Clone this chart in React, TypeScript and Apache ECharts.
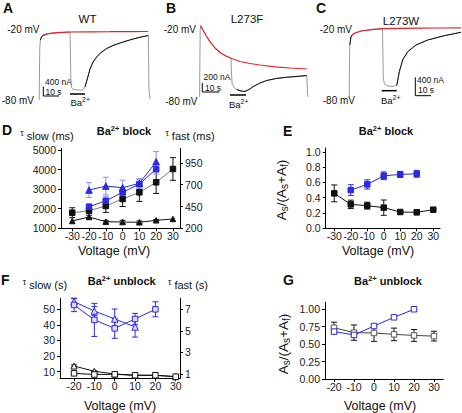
import React, { useEffect, useRef } from 'react';
import * as echarts from 'echarts';

// ---------- Trace data (time in s, current in nA) ----------
const traceARaw = [[0.13,0],[0.33,800],[0.53,1387],[0.93,1600],[1.8,1693],[3.33,1733],[5.33,1760],[8.67,1781],[12.67,1797],[16.67,1805],[20.67,1813],[20.93,1333],[21.2,587],[21.67,347],[22.67,280],[26,267],[29.33,267],[30.67,347],[32,533],[34,827],[36,1013],[38.47,1147],[41.33,1267],[45.13,1373],[49.33,1453],[54,1520],[58.67,1579],[62.87,1627],[68,1680],[72.87,1720],[73.07,1067],[73.33,267],[74,27]];
const traceAAct = [[0.93,1600],[1.8,1693],[3.33,1733],[5.33,1760]];
const traceARec = [[30.67,347],[32,533],[34,827],[36,1013],[38.47,1147],[41.33,1267],[45.13,1373],[49.33,1453],[54,1520],[58.67,1579],[62.87,1627],[68,1680],[72.87,1720]];
const traceARed = [[2.67,1725],[5.33,1760],[8.67,1781],[12.67,1797],[16.67,1805],[20.67,1813],[34,1819],[47.33,1821],[60.67,1824],[72.87,1827]];

const traceBRaw = [[0.35,72],[0.53,960],[0.71,1680],[1.0,1783],[2.35,1680],[4.12,1548],[6.47,1399],[9.41,1248],[12.35,1140],[15.88,1056],[18.82,1001],[19.06,720],[19.41,408],[20.59,300],[22.18,252],[24.71,216],[27.06,204],[29.41,252],[31.94,324],[35.88,408],[39.82,468],[45.29,516],[51.59,545],[57.65,566],[63.35,586],[63.65,360],[63.88,120],[64.41,72]];
const traceBRed = [[1.0,1783],[2.35,1680],[4.12,1548],[6.47,1399],[9.41,1248],[12.35,1140],[15.88,1056],[19.24,996],[24.12,924],[30,876],[35.88,840],[44.71,797],[53.53,768],[63.35,744]];
const traceBRec = [[22.18,252],[24.71,216],[27.06,204],[29.41,252],[31.94,324],[35.88,408],[39.82,468],[45.29,516],[51.59,545],[57.65,566],[63.35,586]];

const traceCRaw = [[0.13,63],[0.25,630],[0.51,1155],[1.27,1329],[3.38,1401],[7.64,1449],[14.01,1476],[21.34,1497],[21.59,1050],[21.85,462],[22.61,336],[24.84,294],[28.03,284],[30.38,305],[31.21,441],[32.04,594],[34.2,840],[37.39,1014],[42.68,1155],[50.13,1260],[60.7,1350],[71.34,1422]];
const traceCAct = [[0.51,1155],[1.27,1329],[1.91,1365]];
const traceCRed = [[1.91,1365],[3.38,1401],[7.64,1449],[14.01,1476],[21.34,1497],[32.48,1506],[45.22,1510],[57.96,1512],[71.34,1514]];
const traceCRec = [[30.38,305],[31.21,441],[32.04,594],[34.2,840],[37.39,1014],[42.68,1155],[50.13,1260],[60.7,1350],[71.34,1422]];

// ---------- Panel D: Ba2+ block time constants ----------
const dVolts = [-30, -20, -10, 0, 10, 20, 30];
const dVoltsBlue = [-20, -10, 0, 10, 20];
const dBlueSq = [2103, 2410, 2839, 3262, 4029];
const dBlueSqErr = [136, 230, 255, 230, 255];
const dBlueTri = [2956, 3160, 3075, 3298, 4403];
const dBlueTriErr = [375, 450, 383, 255, 528];
const dBlackSq = [379, 402, 456, 536, 613, 728, 881];
const dBlackSqErr = [57, 30, 73, 86, 105, 128, 130];
const dBlackTri = [284, 330, 276, 272, 269, 292, 307];
const dBlackTriErr = [0, 20, 15, 20, 15, 8, 0];
const dLeftTicks = [1000, 2000, 3000, 4000, 5000];
const dRightTicks = [200, 450, 700, 950];

// ---------- Panel E: block amplitude ratio ----------
const eVolts = [-30, -20, -10, 0, 10, 20, 30];
const eVoltsBlue = [-20, -10, 0, 10, 20];
const eBlack = [0.457, 0.313, 0.296, 0.27, 0.213, 0.209, 0.243];
const eBlackErr = [0.11, 0.055, 0.045, 0.1, 0.01, 0.03, 0.01];
const eBlue = [0.5, 0.574, 0.687, 0.704, 0.713];
const eBlueErr = [0.07, 0.06, 0.05, 0.04, 0.045];
const eTicks = [0, 0.2, 0.4, 0.6, 0.8, 1.0];

// ---------- Panel F: unblock time constants ----------
const fVolts = [-20, -10, 0, 10, 20, 30];
const fVoltsBlueTri = [-20, -10, 0, 10];
const fVoltsBlueSq = [-20, -10, 0, 10, 20];
const fBlueTri = [54.9, 48.9, 43.8, 38.7];
const fBlueTriErr = [2.1, 3, 6.4, 6.5];
const fBlueSq = [52.8, 43.2, 37.8, 43.8, 50];
const fBlueSqErr = [4.3, 10.6, 6.4, 3.6, 4.8];
const fBlackTri = [1.74, 1.25, 1.0, 0.88, 0.88, 0.75];
const fBlackTriErr = [0.1, 0.05, 0.03, 0, 0, 0];
const fBlackSq = [1.06, 0.95, 0.97, 0.88, 0.88, 0.75];
const fLeftTicks = [10, 20, 30, 40, 50];
const fRightTicks = [1, 3, 5, 7];

// ---------- Panel G: unblock amplitude ratio ----------
const gVolts = [-20, -10, 0, 10, 20, 30];
const gVoltsBlue = [-20, -10, 0, 10, 20];
const gBlack = [0.735, 0.665, 0.66, 0.64, 0.625, 0.615];
const gBlackErr = [0.08, 0.11, 0.12, 0.09, 0.085, 0.07];
const gBlue = [0.68, 0.632, 0.76, 0.885, 1.0];
const gBlueErr = [0.03, 0.02, 0, 0, 0];
const gTicks = [0, 0.25, 0.5, 0.75, 1.0];

const FONT = "'Liberation Sans', Arial, Helvetica, sans-serif";
const BLUE = '#2b2be0';
const BLUE_ERR = '#8f8ff0';
const RED = '#e82028';
const GRAY = '#9a9a9a';

const zip = (xs: number[], ys: number[]) => xs.map((x, i) => [x, ys[i]]);

function errSeries(xs: number[], ys: number[], es: number[], xi: number, yi: number, color: string, cap = 3) {
  return {
    type: 'custom', xAxisIndex: xi, yAxisIndex: yi, z: 1, silent: true,
    data: xs.map((x, i) => [x, ys[i], es[i]]),
    encode: { x: 0, y: 1 },
    renderItem: (_p: any, api: any) => {
      const x = api.value(0), y = api.value(1), e = api.value(2);
      if (!e) return { type: 'group', children: [] };
      const t = api.coord([x, y + e]);
      const b = api.coord([x, y - e]);
      const st = { stroke: color, lineWidth: 1 };
      return {
        type: 'group', children: [
          { type: 'line', shape: { x1: t[0], y1: t[1], x2: b[0], y2: b[1] }, style: st },
          { type: 'line', shape: { x1: t[0] - cap, y1: t[1], x2: t[0] + cap, y2: t[1] }, style: st },
          { type: 'line', shape: { x1: b[0] - cap, y1: b[1], x2: b[0] + cap, y2: b[1] }, style: st },
        ],
      };
    },
  };
}

function ptSeries(xs: number[], ys: number[], xi: number, yi: number, lineColor: string, symbol: string, fill: string, stroke: string, size = 5) {
  return {
    type: 'line', xAxisIndex: xi, yAxisIndex: yi, z: 3, silent: true,
    data: zip(xs, ys), symbol, symbolSize: size, showSymbol: true,
    lineStyle: { color: lineColor, width: 1 },
    itemStyle: { color: fill, borderColor: stroke, borderWidth: 1 },
  };
}

function traceSeries(data: number[][], gi: number, color: string, width = 1, z = 2) {
  return {
    type: 'line', xAxisIndex: gi, yAxisIndex: gi, z, silent: true, clip: false,
    data, symbol: 'none', showSymbol: false,
    lineStyle: { color, width },
  };
}

const axisBase = {
  axisLine: { show: true, onZero: false, lineStyle: { color: '#000', width: 1 } },
  axisTick: { show: true, length: 3, lineStyle: { color: '#000' } },
  splitLine: { show: false },
};
const lblBase = { color: '#1a1a1a', fontSize: 10.5, fontFamily: FONT };
const plain = (v: number) => String(v);

function xAx(gi: number, min: number, max: number, ticks: number[]) {
  return {
    type: 'value', gridIndex: gi, min, max, ...axisBase,
    axisTick: { ...axisBase.axisTick, customValues: ticks },
    axisLabel: { ...lblBase, customValues: ticks, margin: 2, formatter: plain },
  };
}
function yAx(gi: number, min: number, max: number, ticks: number[], pos: string, fmt: (v: number) => string = plain) {
  return {
    type: 'value', gridIndex: gi, min, max, position: pos, ...axisBase,
    axisTick: { ...axisBase.axisTick, customValues: ticks },
    axisLabel: { ...lblBase, customValues: ticks, margin: 5, formatter: fmt },
  };
}
const hidden = (gi: number, min: number, max: number) => ({ type: 'value', gridIndex: gi, min, max, show: false });

function txt(x: number, y: number, text: string, size = 11, align = 'left', bold = false) {
  return {
    type: 'text', x, y, silent: true,
    style: { text, fontSize: size, fontFamily: FONT, fill: '#111', align, verticalAlign: 'middle', fontWeight: bold ? 'bold' : 'normal' },
  };
}
function rich(x: number, y: number, text: string, richDef: any, align = 'center', rotation = 0) {
  return {
    type: 'text', x, y, rotation, silent: true,
    style: { text, fontFamily: FONT, fill: '#111', align, verticalAlign: 'middle', rich: richDef },
  };
}
const ln = (x1: number, y1: number, x2: number, y2: number, w = 1) => ({
  type: 'line', silent: true, shape: { x1, y1, x2, y2 }, style: { stroke: '#000', lineWidth: w },
});

const titleRich = {
  b: { fontSize: 11, fontWeight: 'bold', fontFamily: FONT, fill: '#111' },
  s: { fontSize: 7.5, fontWeight: 'bold', fontFamily: FONT, fill: '#111', padding: [0, 0, 6, 0] },
};
const baRich = {
  n: { fontSize: 9.5, fontFamily: FONT, fill: '#111' },
  s: { fontSize: 7, fontFamily: FONT, fill: '#111', padding: [0, 0, 6, 0] },
};
const tauRich = {
  t: { fontSize: 8.5, fontFamily: FONT, fill: '#111', padding: [0, 0, 6, 0] },
  n: { fontSize: 11, fontFamily: FONT, fill: '#111' },
};
const ratioRich = {
  n: { fontSize: 13.5, fontFamily: FONT, fill: '#111' },
  b: { fontSize: 10, fontFamily: FONT, fill: '#111', padding: [6, 0, 0, 0] },
};
const RATIO = '{n|A}{b|s}{n|/(A}{b|s}{n|+A}{b|f}{n|)}';
const VOLT_FS = 12.5;

const option: any = {
  animation: false,
  backgroundColor: '#fff',
  grid: [
    { left: 39, top: 25, width: 111, height: 75 },
    { left: 199, top: 25, width: 110, height: 75 },
    { left: 349, top: 20, width: 113, height: 80 },
    { left: 61, top: 148.5, width: 119, height: 79.8 },
    { left: 325.7, top: 148, width: 114.3, height: 80.3 },
    { left: 60, top: 298.3, width: 120, height: 80 },
    { left: 325, top: 302.3, width: 118.3, height: 76.7 },
  ],
  xAxis: [
    hidden(0, 0, 74),
    hidden(1, 0, 64.7),
    hidden(2, 0, 72),
    xAx(3, -36.7, 34.2, dVolts),
    xAx(4, -35.2, 34.1, eVolts),
    xAx(5, -26.9, 32.1, fVolts),
    xAx(6, -24.5, 34.65, gVolts),
  ],
  yAxis: [
    hidden(0, 0, 2000),
    hidden(1, 0, 1800),
    hidden(2, 0, 1680),
    yAx(3, 1000, 5080, dLeftTicks, 'left'),
    yAx(3, 200, 1116, dRightTicks, 'right'),
    yAx(4, 0, 1.05, eTicks, 'left', (v: number) => v.toFixed(1)),
    yAx(5, 5.77, 57.05, fLeftTicks, 'left'),
    yAx(5, 0.6, 8.02, fRightTicks, 'right'),
    yAx(6, 0, 1.1, gTicks, 'left', (v: number) => v.toFixed(2)),
  ],
  series: [
    // traces
    traceSeries(traceARaw, 0, GRAY, 1, 1),
    traceSeries(traceAAct, 0, '#111', 1, 2),
    traceSeries(traceARec, 0, '#111', 1, 2),
    traceSeries(traceARed, 0, RED, 1.2, 3),
    traceSeries(traceBRaw, 1, GRAY, 1, 1),
    traceSeries(traceBRec, 1, '#111', 1, 2),
    traceSeries(traceBRed, 1, RED, 1.2, 3),
    traceSeries(traceCRaw, 2, GRAY, 1, 1),
    traceSeries(traceCAct, 2, '#111', 1, 2),
    traceSeries(traceCRec, 2, '#111', 1, 2),
    traceSeries(traceCRed, 2, RED, 1.2, 3),
    // D
    errSeries(dVolts, dBlackSq, dBlackSqErr, 3, 4, '#111'),
    errSeries(dVolts, dBlackTri, dBlackTriErr, 3, 4, '#111'),
    errSeries(dVoltsBlue, dBlueSq, dBlueSqErr, 3, 3, BLUE_ERR),
    errSeries(dVoltsBlue, dBlueTri, dBlueTriErr, 3, 3, BLUE_ERR),
    ptSeries(dVolts, dBlackSq, 3, 4, '#7a7a7a', 'rect', '#111', '#111', 5.5),
    ptSeries(dVolts, dBlackTri, 3, 4, '#111', 'triangle', '#111', '#111', 5.5),
    ptSeries(dVoltsBlue, dBlueSq, 3, 3, BLUE, 'rect', BLUE, BLUE, 5.5),
    ptSeries(dVoltsBlue, dBlueTri, 3, 3, BLUE, 'triangle', BLUE, BLUE, 6.5),
    // E
    errSeries(eVolts, eBlack, eBlackErr, 4, 5, '#111'),
    errSeries(eVoltsBlue, eBlue, eBlueErr, 4, 5, BLUE),
    ptSeries(eVolts, eBlack, 4, 5, '#111', 'rect', '#111', '#111', 5.5),
    ptSeries(eVoltsBlue, eBlue, 4, 5, BLUE, 'rect', BLUE, BLUE, 5.5),
    // F
    errSeries(fVoltsBlueTri, fBlueTri, fBlueTriErr, 5, 6, BLUE),
    errSeries(fVoltsBlueSq, fBlueSq, fBlueSqErr, 5, 6, BLUE),
    errSeries(fVolts, fBlackTri, fBlackTriErr, 5, 7, '#111'),
    ptSeries(fVoltsBlueTri, fBlueTri, 5, 6, BLUE, 'triangle', '#dcdcf8', BLUE, 6.5),
    ptSeries(fVoltsBlueSq, fBlueSq, 5, 6, BLUE, 'rect', '#dcdcf8', BLUE, 5.5),
    ptSeries(fVolts, fBlackTri, 5, 7, '#111', 'triangle', '#fff', '#111', 6),
    ptSeries(fVolts, fBlackSq, 5, 7, '#111', 'rect', '#fff', '#111', 5.5),
    // G
    errSeries(gVolts, gBlack, gBlackErr, 6, 8, '#111'),
    errSeries(gVoltsBlue, gBlue, gBlueErr, 6, 8, BLUE),
    ptSeries(gVolts, gBlack, 6, 8, '#444', 'rect', '#fff', '#555', 5.5),
    ptSeries(gVoltsBlue, gBlue, 6, 8, BLUE, 'rect', '#fff', BLUE, 5.5),
  ],
  graphic: [
    // Panel A
    txt(3, 7.5, 'A', 14, 'left', true),
    txt(87.5, 19, 'WT', 11.5, 'center'),
    txt(39.5, 29.5, '-20 mV', 10, 'right'),
    txt(34, 100, '-80 mV', 10, 'right'),
    ln(43.3, 86.5, 43.3, 96), ln(43.3, 96, 59, 96),
    txt(45, 82.3, '400 nA', 8.5, 'left'),
    txt(45.5, 91.8, '10 s', 8.5, 'left'),
    ln(70, 94, 85, 94, 1.5),
    rich(70.5, 102.5, '{n|Ba}{s|2+}', baRich, 'left'),
    // Panel B
    txt(166, 7.5, 'B', 14, 'left', true),
    txt(247, 18.5, 'L273F', 11.5, 'center'),
    txt(196, 29.5, '-20 mV', 10, 'right'),
    txt(197.5, 101.5, '-80 mV', 10, 'right'),
    ln(202.3, 83, 202.3, 92), ln(202.3, 92, 219.3, 92),
    txt(203.5, 76.5, '200 nA', 8.5, 'left'),
    txt(205, 87.5, '10 s', 8.5, 'left'),
    ln(230, 95, 246, 95, 1.5),
    rich(229, 104, '{n|Ba}{s|2+}', baRich, 'left'),
    // Panel C
    txt(316, 7.5, 'C', 14, 'left', true),
    txt(401, 20.5, 'L273W', 11.5, 'center'),
    txt(352, 29.5, '-20 mV', 10, 'right'),
    txt(355, 100, '-80 mV', 10, 'right'),
    ln(415.3, 77.3, 415.3, 95.7), ln(415.3, 95.7, 431, 95.7),
    txt(417, 79.5, '400 nA', 8.5, 'left'),
    txt(418, 89.5, '10 s', 8.5, 'left'),
    ln(381.7, 90.7, 396.7, 90.7, 1.5),
    rich(381, 100, '{n|Ba}{s|2+}', baRich, 'left'),
    // Panel D
    txt(2, 130, 'D', 14, 'left', true),
    rich(47, 136, '{t|τ}{n| slow (ms)}', tauRich),
    rich(124, 131, '{b|Ba}{s|2+}{b| block}', titleRich),
    rich(190, 136, '{t|τ}{n| fast (ms)}', tauRich),
    txt(114, 250.5, 'Voltage (mV)', VOLT_FS, 'center'),
    // Panel E
    txt(283, 130.5, 'E', 14, 'left', true),
    rich(386, 131, '{b|Ba}{s|2+}{b| block}', titleRich),
    rich(281.7, 190, RATIO, ratioRich, 'center', Math.PI / 2),
    txt(378, 251, 'Voltage (mV)', VOLT_FS, 'center'),
    // Panel F
    txt(1, 280, 'F', 14, 'left', true),
    rich(45, 285, '{t|τ}{n| slow (s)}', tauRich),
    rich(121.7, 281, '{b|Ba}{s|2+}{b| unblock}', titleRich),
    rich(188, 285, '{t|τ}{n| fast (s)}', tauRich),
    txt(120, 405.5, 'Voltage (mV)', VOLT_FS, 'center'),
    // Panel G
    txt(283, 280, 'G', 14, 'left', true),
    rich(388, 281, '{b|Ba}{s|2+}{b| unblock}', titleRich),
    rich(283.3, 344, RATIO, ratioRich, 'center', Math.PI / 2),
    txt(380, 405.5, 'Voltage (mV)', VOLT_FS, 'center'),
  ],
};

export default function App() {
  const ref = useRef<HTMLDivElement>(null);
  useEffect(() => {
    const chart = echarts.init(ref.current!, null, { renderer: 'svg' });
    chart.setOption(option);
    return () => chart.dispose();
  }, []);
  return <div ref={ref} style={{ position: 'absolute', left: 0, top: 0, width: 462, height: 413, background: '#fff' }} />;
}
